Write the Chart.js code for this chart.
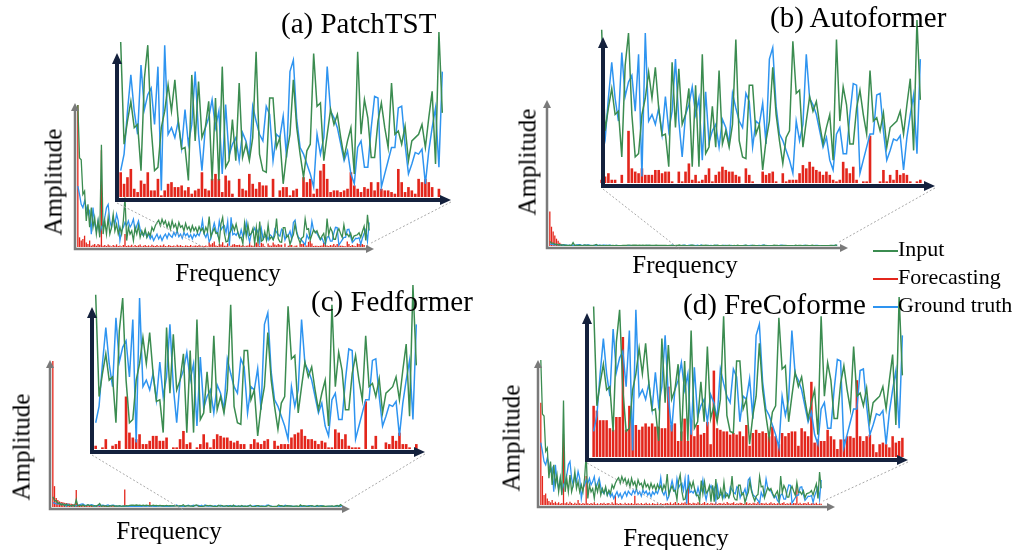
<!DOCTYPE html>
<html>
<head>
<meta charset="utf-8">
<script src="https://cdn.jsdelivr.net/npm/chart.js@4.4.1/dist/chart.umd.min.js"></script>
<style>
body { margin: 0; background: #fff; }
#fig { position: relative; width: 1025px; height: 550px; overflow: hidden; font-family: "Liberation Serif", "Times New Roman", serif; color: #000; }
#fig canvas { position: absolute; }
.t { position: absolute; white-space: nowrap; line-height: 1; }
.title { font-size: 29px; }
.lab { font-size: 25px; transform: translate(-50%, -50%); }
.amp { font-size: 25px; transform: translate(-50%, -50%) rotate(-90deg); }
.leg { position: absolute; left: 873px; font-size: 22px; line-height: 1; white-space: nowrap; transform: translateY(-50%); }
.leg i { display: inline-block; width: 25px; height: 2px; vertical-align: middle; }
</style>
</head>
<body>
<div id="fig"></div>
<script>
// spectrum tail shown in the insets (same input / ground truth in every panel)
var insetGreen = [94,32,46,58,42,44,16,72,92,42,16,18,42,52,68,52,71,46,29,30,10,74,34,70,36,42,58,10,60,10,79,18,22,
    47,22,69,24,32,22,36,88,26,16,15,60,60,30,36,8,26,38,71,42,26,12,28,32,87,55,57,22,38,53,44,
    50,36,24,34,42,14,88,38,59,48,24,24,46,57,42,30,69,38,40,32,43,22,34,36,38,44,30,48,64,20,100,51]
var insetBlue = [16,26,52,74,52,38,80,53,62,66,44,79,4,92,38,42,36,46,30,53,32,44,76,38,16,42,48,59,42,52,14,56,25,
    32,36,22,39,34,24,55,46,38,34,55,50,22,38,36,49,24,76,83,47,30,26,20,14,6,38,26,36,79,52,48,
    42,32,22,28,14,8,30,34,18,18,42,61,60,6,14,22,30,30,54,55,32,14,20,27,26,29,8,28,42,54,18,76]

// forecasting spectrum tail per model (inset)
var insetRedA = [15,8,12,17,5,3,10,8,15,4,4,11,1,4,8,9,6,6,7,4,6,2,4,5,15,5,4,11,14,11,3,13,10,
    2,0,11,5,4,14,8,5,9,7,7,0,11,0,4,6,6,1,4,5,0,12,9,11,2,5,16,20,11,3,4,
    4,3,4,5,15,7,5,3,6,5,9,4,9,5,4,4,3,2,17,9,3,6,4,2,11,9,11,9,6,0,5,0]
var insetRedB = [2,4,6,2,2,0,5,0,32,9,7,6,9,5,5,5,8,8,6,7,7,1,0,7,1,7,12,2,5,1,2,5,9,1,5,7,10,8,7,7,
    5,4,0,9,5,1,0,0,7,5,6,7,1,0,6,1,2,2,2,6,11,9,13,10,8,7,5,7,5,2,1,2,13,9,6,10,2,0,1,1,
    29,0,0,1,8,1,5,2,8,5,6,5,1,0,1,2]
var insetRedC = [2,0,1,6,0,2,3,5,0,32,10,7,6,9,3,3,5,8,8,5,5,7,0,1,1,6,11,3,4,0,1,3,9,4,1,6,9,8,7,7,
    5,4,5,3,3,0,3,6,4,3,5,6,0,5,2,3,3,3,7,9,10,12,8,6,6,5,3,5,4,1,1,12,10,6,9,2,1,1,1,0,
    29,0,2,8,0,0,4,3,8,5,10,3,3,1,0,3]
var insetRedD = [32,29,23,23,23,18,17,25,25,75,17,32,23,20,17,19,21,19,21,19,19,18,18,44,20,21,10,16,24,10,
    23,13,20,14,15,22,8,54,18,17,16,16,14,15,14,
    16,13,20,7,15,17,15,16,15,13,19,13,8,15,13,15,16,16,7,18,16,13,47,9,11,10,10,17,13,11,
    5,11,11,13,13,12,48,13,10,13,14,8,3,8,9,8,6,13,9,10,12]

// low-frequency head of the full spectrum (same units)
var headGreen = [440,276,270,163,173,81,132,61,122,61,91,40,81,30,317,40,81,40,91,40,
    61,101,50,71,40,61,40,81,153,20,61,40,50,20,61,40,66,30,50,35,
    55,30,45,35,61,50,66,76,83,66,86,71,81,61,76,55,81,61,71,50,
    76,61,66,50,73,55,63,48,66,51,61,45,63,50,58,42,61,48]
var headBlue = [189,163,132,122,143,122,102,112,40,122,71,50,81,40,61,71,91,122,132,81,
    61,91,71,102,81,20,50,61,76,66,81,61,71,86,50,66,81,55,40,35,
    50,30,40,25,35,20,30,40,25,35,20,32,40,27,42,35,30,45,35,50,
    32,40,27,45,35,42,30,38,25,40,32,42,35,50,83,40,30,45]
var headRedA = [440,30,20,25,35,14,9,20,4,7,9,4,9,7,300,4,6,3,8,5,
    2,6,4,8,3,5,2,6,40,3,5,4,7,2,6,3,5,8,2,4,
    6,3,5,2,7,4,3,6,2,5,4,8,3,2,6,4,3,5,2,7,
    4,6,3,2,5,4,3,6,2,4,5,3,6,2,4,3,5,2]
var headRedB = [3300,1850,1400,1000,700,500,300,200,150,120,90,70,60,50,80,40,30,35,25,30,
    20,25,18,22,15,20,12,18,30,10,15,12,10,14,8,12,10,9,8,11,
    7,9,40,8,6,9,7,5,8,6,5,7,6,4,8,5,6,4,7,5,
    4,6,5,3,6,4,5,3,5,4,3,5,4,2,4,3,4,3]
var headRedC = [6300,900,390,300,240,220,200,180,170,160,150,140,130,120,730,110,100,95,90,85,
    80,70,75,60,65,55,60,50,55,45,50,40,45,38,42,35,40,30,35,28,
    32,26,30,760,28,25,22,26,20,24,18,22,20,16,20,15,18,14,215,16,
    12,15,11,14,10,13,9,12,10,8,11,9,10,8,9,7,8,6]
var headRedD = [310,88,30,35,20,12,8,15,6,10,5,8,4,6,215,5,8,4,10,6,
    3,7,4,15,5,3,6,4,88,5,3,6,4,8,3,5,2,6,4,7,
    3,5,6,2,8,4,30,5,3,6,4,2,7,3,5,4,6,3,28,4,
    5,2,6,3,4,7,3,5,2,6,4,3,5,2,6,3,4,5]
// FreCoformer forecasting tail as it reads on the full-spectrum plot
var mainTailRedD = [6,4,8,3,5,9,4,6,3,7,5,8,4,55,6,3,7,5,4,8,
    6,3,5,9,4,6,2,7,5,4,8,3,6,5,4,7,3,9,5,4,
    6,8,3,5,4,7,6,3,5,8,4,6,3,7,5,4,9,3,6,5,
    4,7,3,5,8,4,6,3,5,7,4,6,8,3,5,4,7,3,6,5,
    60,4,7,3,5,6,4,8,3,5,6,4,7,3,5,4]

var titles = ["(a) PatchTST", "(b) Autoformer", "(c) Fedformer", "(d) FreCoforme"]
var seriesNames = ["Input", "Forecasting", "Ground truth"]
var colGreen = "#3b8c50", colRed = "#e3261c", colBlue = "#2e94f0"

var mainGreen = headGreen.concat(insetGreen)
var mainBlue = headBlue.concat(insetBlue)
var mainLabels = mainGreen.map(function (v, i) { return i })
var insetLabels = insetGreen.map(function (v, i) { return i })
var zoomStart = headGreen.length

var fig = document.getElementById("fig")

var arrowAxes = {
    id: "arrowAxes",
    afterDatasetsDraw: function (chart, args, o) {
        var a = chart.chartArea, ctx = chart.ctx
        var x0 = a.left - o.gap, y0 = a.bottom + o.gapY
        var yTop = a.top + o.top, xEnd = a.right + o.ext
        ctx.save()
        ctx.strokeStyle = o.color
        ctx.fillStyle = o.color
        ctx.lineWidth = o.width
        ctx.beginPath()
        ctx.moveTo(x0, y0 + o.width / 2)
        ctx.lineTo(x0, yTop + o.head)
        ctx.moveTo(x0, y0)
        ctx.lineTo(xEnd - o.head, y0)
        ctx.stroke()
        ctx.beginPath()
        ctx.moveTo(x0, yTop)
        ctx.lineTo(x0 - o.hw, yTop + o.head)
        ctx.lineTo(x0 + o.hw, yTop + o.head)
        ctx.fill()
        ctx.beginPath()
        ctx.moveTo(xEnd, y0)
        ctx.lineTo(xEnd - o.head, y0 - o.hw)
        ctx.lineTo(xEnd - o.head, y0 + o.hw)
        ctx.fill()
        ctx.restore()
    }
}

var mainAxis = { color: "#7a7a7a", width: 2.5, head: 8, hw: 4, gap: 2, gapY: 2 }
var insetAxis = { color: "#14213d", width: 4, head: 11, hw: 5, gap: 2, gapY: 3 }

function makeChart(box, pad, max, labels, red, green, blue, axis, lw) {
    var c = document.createElement("canvas")
    var w = box.w + pad[0] + pad[1], h = box.h + pad[2] + pad[3]
    c.width = w
    c.height = h
    c.style.width = w + "px"
    c.style.height = h + "px"
    c.style.left = (box.x - pad[0]) + "px"
    c.style.top = (box.y - pad[2]) + "px"
    fig.appendChild(c)
    var chart = new Chart(c, {
        type: "bar",
        data: {
            labels: labels,
            datasets: [
                { type: "line", data: green, borderColor: colGreen, borderWidth: lw, pointRadius: 0, order: 1 },
                { type: "line", data: blue, borderColor: colBlue, borderWidth: lw, pointRadius: 0, order: 2 },
                { data: red, backgroundColor: colRed, barPercentage: 0.78, categoryPercentage: 1, order: 3 }
            ]
        },
        options: {
            responsive: false,
            animation: false,
            events: [],
            layout: { padding: { left: pad[0], right: pad[1], top: pad[2], bottom: pad[3] } },
            scales: {
                x: { display: false },
                y: { display: false, min: 0, max: max }
            },
            plugins: { legend: { display: false }, tooltip: { enabled: false }, arrowAxes: axis }
        },
        plugins: [arrowAxes]
    })
    chart.left = box.x - pad[0]
    chart.top = box.y - pad[2]
    return chart
}

var panels = [
    { main: { x: 77, y: 105, w: 293, h: 142 }, mainMax: 440, mainTop: -2, mainExt: 4,
      mainRed: headRedA.concat(insetRedA),
      inset: { x: 119, y: 32, w: 325, h: 165 }, insetTop: 21, insetExt: 7, insetGap: 2, insetRed: insetRedA },
    { main: { x: 549, y: 100, w: 289, h: 146 }, mainMax: 14000, mainTop: 0, mainExt: 10,
      mainRed: headRedB.concat(insetRedB),
      inset: { x: 600, y: 20, w: 322, h: 163 }, insetTop: 17, insetExt: 13, insetGap: -3, insetRed: insetRedB },
    { main: { x: 52, y: 361, w: 291, h: 146 }, mainMax: 6300, mainTop: -1, mainExt: 7,
      mainRed: headRedC.concat(insetRedC),
      inset: { x: 94, y: 285, w: 324, h: 164 }, insetTop: 22, insetExt: 7, insetGap: 2, insetRed: insetRedC },
    { main: { x: 540, y: 360, w: 282, h: 145 }, mainMax: 440, mainTop: 0, mainExt: 13,
      mainRed: headRedD.concat(mainTailRedD),
      inset: { x: 592, y: 297, w: 312, h: 160 }, insetTop: 16, insetExt: 4, insetGap: 5, insetRed: insetRedD }
]

var pairs = panels.map(function (p) {
    var ma = Object.assign({}, mainAxis, { top: p.mainTop, ext: p.mainExt })
    var ia = Object.assign({}, insetAxis, { top: p.insetTop, ext: p.insetExt, gap: p.insetGap })
    var m = makeChart(p.main, [8, 16, 6, 8], p.mainMax, mainLabels, p.mainRed, mainGreen, mainBlue, ma, 1.3)
    var s = makeChart(p.inset, [10, 18, 6, 10], 100, insetLabels, p.insetRed, insetGreen, insetBlue, ia, 1.5)
    return { m: m, s: s, ia: ia }
})

// dotted zoom connectors
var ov = document.createElement("canvas")
ov.width = 1025
ov.height = 550
ov.style.left = "0px"
ov.style.top = "0px"
fig.appendChild(ov)
var octx = ov.getContext("2d")
octx.strokeStyle = "#a8a8a8"
octx.lineWidth = 1
octx.setLineDash([2, 2])
pairs.forEach(function (q) {
    var sa = q.s.chartArea, ma = q.m.chartArea
    var sy = q.s.top + sa.bottom + q.ia.gapY
    var sx0 = q.s.left + sa.left - q.ia.gap, sx1 = q.s.left + sa.right + q.ia.ext
    var my = q.m.top + ma.bottom
    var mx0 = q.m.left + q.m.scales.x.getPixelForValue(zoomStart)
    var mx1 = q.m.left + q.m.scales.x.getPixelForValue(mainLabels.length - 1)
    octx.beginPath()
    octx.moveTo(sx0, sy + 3)
    octx.lineTo(mx0, my + 3)
    octx.moveTo(sx1, sy + 2)
    octx.lineTo(mx1 + 2, my - 4)
    octx.stroke()
})

// text
function addText(cls, txt, x, y) {
    var d = document.createElement("div")
    d.className = "t " + cls
    d.textContent = txt
    d.style.left = x + "px"
    d.style.top = y + "px"
    fig.appendChild(d)
}
var titlePos = [[281, 9], [770, 3], [311, 287], [683, 290]]
var ampPos = [[53, 182], [527, 162], [21, 447], [511, 438]]
var freqPos = [[228, 272], [685, 264], [169, 530], [676, 537]]
titles.forEach(function (t, i) {
    addText("title", t, titlePos[i][0], titlePos[i][1])
    addText("amp", "Amplitude", ampPos[i][0], ampPos[i][1])
    addText("lab", "Frequency", freqPos[i][0], freqPos[i][1])
})

var legCols = [colGreen, colRed, colBlue]
var legY = [249, 277, 305]
seriesNames.forEach(function (n, i) {
    var d = document.createElement("div")
    d.className = "leg"
    d.style.top = legY[i] + "px"
    d.innerHTML = '<i style="background:' + legCols[i] + '"></i>' + n
    fig.appendChild(d)
})
</script>
</body>
</html>
